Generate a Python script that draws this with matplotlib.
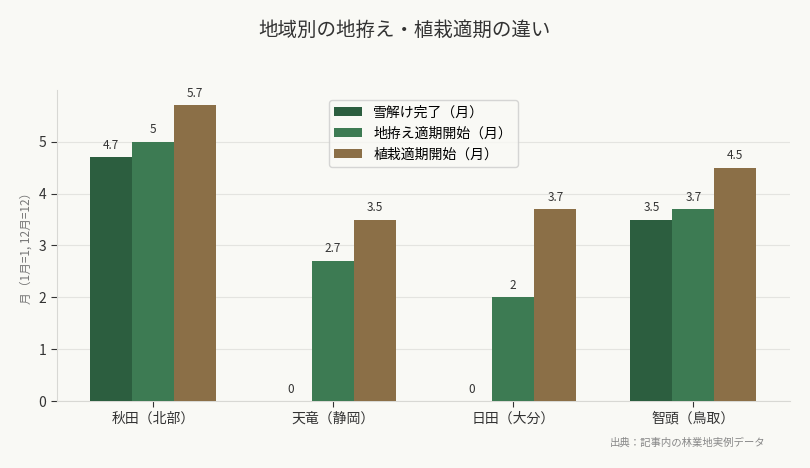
import matplotlib
matplotlib.use("Agg")
import matplotlib.pyplot as plt
import numpy as np

plt.rcParams['font.family'] = ['Noto Sans CJK JP', 'DejaVu Sans']

regions = ["秋田（北部）", "天竜（静岡）", "日田（大分）", "智頭（鳥取）"]
series_names = ["雪解け完了（月）", "地拵え適期開始（月）", "植栽適期開始（月）"]
snowmelt = [4.7, 0, 0, 3.5]
site_prep = [5, 2.7, 2, 3.7]
planting = [5.7, 3.5, 3.7, 4.5]
colors = ["#2c5e3f", "#3d7b53", "#8b6f47"]

bg = "#f9f9f5"
fig = plt.figure(figsize=(8.1, 4.68), dpi=100, facecolor=bg)
ax = fig.add_axes([0.070, 0.143, 0.905, 0.665])
ax.set_facecolor(bg)

x = np.arange(len(regions))
w = 0.7 / 3
for i, (vals, name, c) in enumerate(zip([snowmelt, site_prep, planting], series_names, colors)):
    bars = ax.bar(x + (i - 1) * w, vals, w, color=c, label=name, zorder=3)
    for b, v in zip(bars, vals):
        lab = f"{v:g}"
        ax.annotate(lab, (b.get_x() + b.get_width() / 2, v), xytext=(0, 4),
                    textcoords="offset points", ha="center", va="bottom",
                    fontsize=8.5, color="#333333")

ax.set_ylim(0, 6)
ax.set_yticks([0, 1, 2, 3, 4, 5])
ax.set_xticks(x)
ax.set_xticklabels(regions, fontsize=10, color="#333333")
ax.tick_params(axis='y', labelsize=10, colors="#333333", length=4)
ax.tick_params(axis='x', length=4, colors="#333333")
ax.grid(axis='y', color="#e4e4e0", linewidth=0.8, zorder=0)
for s in ["top", "right"]:
    ax.spines[s].set_visible(False)
for s in ["left", "bottom"]:
    ax.spines[s].set_color("#d8d8d4")
ax.set_ylabel("月（1月=1, 12月=12）", fontsize=8.5, color="#777777")

leg = ax.legend(loc="upper center", fontsize=10, frameon=True, facecolor=bg,
                edgecolor="#cccccc", bbox_to_anchor=(0.5, 0.99))

fig.text(0.5, 0.935, "地域別の地拵え・植栽適期の違い", ha="center", va="center",
         fontsize=14, color="#333333")
fig.text(0.945, 0.055, "出典：記事内の林業地実例データ", ha="right", va="center",
         fontsize=7.5, color="#888888")

fig.savefig("out.png", dpi=100, facecolor=bg)
